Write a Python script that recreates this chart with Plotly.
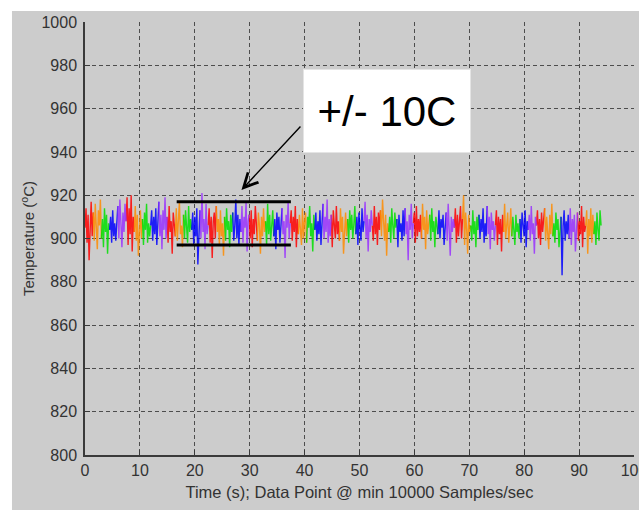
import plotly.graph_objects as go

# ---------------- data ----------------
X_END = 94.0          # last sample time (s)
SEG = 8               # samples per coloured segment
SEG_COLORS = ["#ff0000", "#ff8c00", "#00e000", "#0000ff", "#9932ff"]

temps = [
    905, 914, 898, 911, 890, 908, 917, 901,
    912, 899, 916, 904, 895, 913, 906, 918,
    900, 909, 896, 914, 903, 911, 893, 907,
    904, 910, 898, 913, 901, 907, 899, 911,
    915, 900, 918, 905, 896, 912, 903, 916,
    908, 919, 897, 914, 902, 920, 894, 910,
    903, 915, 899, 911, 892, 906, 913, 900,
    909, 897, 912, 904, 916, 898, 907, 901,
    906, 913, 899, 910, 902, 914, 897, 908,
    917, 901, 911, 895, 913, 904, 919, 900,
    910, 898, 915, 903, 908, 893, 912, 905,
    901, 914, 899, 909, 917, 902, 906, 896,
    911, 900, 913, 905, 898, 915, 903, 909,
    904, 912, 897, 910, 901, 914, 888, 907,
    913, 900, 921, 903, 909, 895, 916, 902,
    906, 914, 898, 910, 891, 908, 912, 900,
    915, 903, 909, 897, 913, 901, 907, 892,
    910, 899, 914, 904, 908, 896, 911, 903,
    912, 899, 906, 918, 900, 911, 897, 909,
    903, 915, 898, 910, 905, 917, 894, 908,
    911, 900, 913, 896, 909, 902, 915, 904,
    899, 912, 906, 893, 910, 901, 914, 903,
    908, 897, 916, 902, 911, 899, 906, 913,
    901, 909, 895, 912, 904, 910, 898, 906,
    914, 902, 908, 891, 911, 905, 917, 900,
    907, 913, 899, 910, 903, 915, 896, 909,
    902, 911, 904, 897, 914, 900, 908, 912,
    898, 910, 905, 915, 901, 907, 894, 911,
    904, 912, 899, 908, 902, 913, 897, 906,
    916, 900, 910, 903, 918, 898, 909, 901,
    911, 896, 913, 905, 900, 915, 902, 908,
    899, 914, 903, 910, 893, 907, 912, 901,
    909, 898, 913, 904, 911, 900, 906, 915,
    902, 910, 897, 912, 905, 899, 914, 903,
    908, 917, 900, 911, 894, 909, 903, 913,
    906, 899, 915, 902, 910, 897, 912, 904,
    913, 901, 918, 905, 899, 911, 892, 907,
    903, 910, 898, 914, 906, 900, 912, 905,
    909, 896, 911, 903, 907, 899, 913, 901,
    914, 902, 908, 890, 911, 904, 916, 900,
    907, 912, 898, 915, 901, 909, 903, 911,
    900, 916, 904, 910, 895, 913, 902, 908,
    911, 899, 914, 903, 908, 896, 910, 905,
    902, 913, 900, 909, 905, 911, 897, 906,
    912, 899, 916, 904, 892, 910, 903, 909,
    905, 914, 898, 911, 901, 907, 915, 900,
    909, 920, 897, 912, 904, 893, 911, 903,
    906, 899, 913, 902, 908, 896, 910, 904,
    911, 900, 909, 903, 914, 898, 907, 901,
    915, 902, 910, 895, 912, 904, 908, 899,
    906, 913, 897, 910, 902, 909, 894, 911,
    903, 916, 900, 908, 912, 898, 905, 914,
    901, 910, 904, 897, 911, 903, 907, 900,
    909, 898, 912, 905, 901, 913, 896, 908,
    904, 911, 899, 915, 902, 907, 893, 910,
    906, 913, 900, 909, 897, 912, 903, 908,
    914, 899, 910, 904, 895, 911, 902, 916,
    901, 907, 898, 912, 904, 909, 896, 905,
    910, 883, 906, 913, 899, 908, 902, 911,
    900, 914, 897, 909, 903, 911, 894, 907,
    912, 899, 908, 902, 915, 896, 910, 903,
    906, 913, 893, 909, 901, 914, 898, 911,
    902, 908, 897, 912, 904, 899, 913, 906,
]

x_ticks = [0, 10, 20, 30, 40, 50, 60, 70, 80, 90, 100]
y_ticks = [800, 820, 840, 860, 880, 900, 920, 940, 960, 980, 1000]

band_x = [16.7, 37.5]          # the +/- 10C bracket
band_y = [897.0, 917.0]
label_text = "+/- 10C"
label_pos = (55.0, 960.0)
arrow_tip = (28.5, 922.4)
arrow_tail = (39.5, 952.4)

# ---------------- build figure ----------------
n = len(temps)
dt = X_END / (n - 1)
times = [i * dt for i in range(n)]

fig = go.Figure()
for c_idx, col in enumerate(SEG_COLORS):
    xs, ys = [], []
    n_seg = (n + SEG - 1) // SEG
    for k in range(n_seg):
        if k % len(SEG_COLORS) != c_idx:
            continue
        a = k * SEG
        b = min(a + SEG + 1, n)
        xs += times[a:b] + [None]
        ys += temps[a:b] + [None]
    fig.add_trace(go.Scatter(x=xs, y=ys, mode="lines",
                             line=dict(color=col, width=1.4),
                             opacity=0.85, showlegend=False,
                             hoverinfo="skip"))

TXT = "#333333"
AX = "#3a3a3a"
GRID = "#4d4d4d"

# gray figure background (leaves a white strip at top/left like the screenshot)
fig.add_shape(type="rect", xref="paper", yref="paper",
              x0=-0.133, x1=1.1, y0=-0.3, y1=1.0254,
              fillcolor="#cccccc", line_width=0, layer="below")

# bracket lines
for yv in band_y:
    fig.add_shape(type="line", xref="x", yref="y",
                  x0=band_x[0], x1=band_x[1], y0=yv, y1=yv,
                  line=dict(color="black", width=3))

# arrow
fig.add_annotation(x=arrow_tip[0], y=arrow_tip[1], ax=arrow_tail[0], ay=arrow_tail[1],
                   xref="x", yref="y", axref="x", ayref="y", text="",
                   showarrow=True, arrowhead=5, arrowsize=2, arrowwidth=1.4,
                   arrowcolor="black")

# label box
fig.add_annotation(x=label_pos[0], y=label_pos[1], xref="x", yref="y",
                   text=label_text, showarrow=False,
                   font=dict(family="Liberation Sans, Arial", size=42, color="black"),
                   bgcolor="white", bordercolor="#e4e4e4", borderwidth=1,
                   width=164, height=80, borderpad=1, yshift=-2)

fig.update_xaxes(range=[0, 100], tickvals=x_ticks, ticktext=[str(v) for v in x_ticks],
                 showgrid=True, gridcolor=GRID, griddash="4px,3px", gridwidth=1,
                 showline=True, linecolor=AX, linewidth=1.5, mirror=False,
                 ticks="inside", ticklen=5, tickcolor=AX, tickwidth=1,
                 zeroline=False, ticklabeloverflow="allow",
                 tickfont=dict(family="Liberation Sans, Arial", size=16, color=TXT),
                 title=dict(text="Time (s); Data Point @ min 10000 Samples/sec",
                            font=dict(family="Liberation Sans, Arial", size=16.5, color=TXT),
                            standoff=8))
fig.update_yaxes(range=[800, 1000], tickvals=y_ticks, ticktext=[str(v) for v in y_ticks],
                 showgrid=True, gridcolor=GRID, griddash="4px,3px", gridwidth=1,
                 showline=True, linecolor=AX, linewidth=1.5, mirror=False,
                 ticks="inside", ticklen=5, tickcolor=AX, tickwidth=1,
                 zeroline=False, ticklabelstandoff=3,
                 tickfont=dict(family="Liberation Sans, Arial", size=16, color=TXT),
                 title=dict(text="Temperature (<sup>o</sup>C)",
                            font=dict(family="Liberation Sans, Arial", size=15, color=TXT),
                            standoff=3))

fig.update_layout(width=639, height=510,
                  margin=dict(l=85, r=5, t=22, b=55, autoexpand=False),
                  paper_bgcolor="white", plot_bgcolor="white",
                  showlegend=False)

fig.write_html("out.html")
